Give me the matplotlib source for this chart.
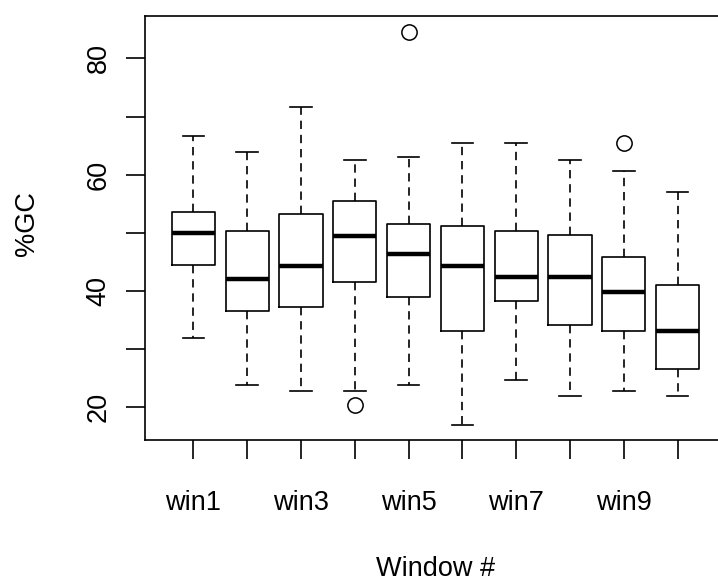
import matplotlib
matplotlib.use('Agg')
import matplotlib.pyplot as plt

# box stats (%GC per window)
windows = ['win1', 'win2', 'win3', 'win4', 'win5', 'win6', 'win7', 'win8', 'win9', 'win10']
whislo = [32.0, 23.8, 22.8, 22.8, 23.8, 17.0, 24.7, 21.9, 22.8, 21.9]
q1 = [44.5, 36.6, 37.3, 41.5, 38.9, 33.1, 38.2, 34.2, 33.1, 26.6]
med = [50.0, 42.1, 44.3, 49.5, 46.4, 44.3, 42.4, 42.4, 39.9, 33.1]
q3 = [53.5, 50.3, 53.2, 55.4, 51.6, 51.1, 50.3, 49.7, 45.9, 41.0]
whishi = [66.7, 63.9, 71.7, 62.5, 63.0, 65.5, 65.5, 62.5, 60.6, 57.0]
fliers = [[], [], [], [20.4], [84.5], [], [], [], [65.5], []]

yticks = [20, 30, 40, 50, 60, 70, 80]
ytick_labels = ['20', '', '40', '', '60', '', '80']
xtick_labels = ['win1', '', 'win3', '', 'win5', '', 'win7', '', 'win9', '']

plt.rcParams['font.family'] = ['Liberation Sans', 'DejaVu Sans']

fig = plt.figure(figsize=(7.18, 5.84), dpi=100)
ax = fig.add_axes([145/718, 144/584, 581/718, 424.3/584])

stats = []
for i in range(len(windows)):
    stats.append(dict(label=windows[i], whislo=whislo[i], q1=q1[i], med=med[i],
                      q3=q3[i], whishi=whishi[i], fliers=fliers[i]))

pos = list(range(1, len(windows) + 1))
ax.bxp(stats, positions=pos, widths=0.8, showfliers=True,
       boxprops=dict(color='black', linewidth=1.2),
       medianprops=dict(color='black', linewidth=3.2, solid_capstyle='butt'),
       whiskerprops=dict(color='black', linewidth=1.2, linestyle=(0, (5, 3.5))),
       capprops=dict(color='black', linewidth=1.2),
       capwidths=0.4,
       flierprops=dict(marker='o', markersize=11, markerfacecolor='none',
                       markeredgecolor='black', markeredgewidth=1.1, linestyle='none'))

ax.set_xlim(0.1, 10.9)
ax.set_ylim(14.38, 87.34)

ax.set_xticks(pos)
ax.set_xticklabels(xtick_labels, fontsize=19.5)
ax.set_yticks(yticks)
ax.set_yticklabels(ytick_labels, fontsize=19.5, rotation=90, va='center')
ax.tick_params(axis='x', length=14, width=1.2, pad=22)
ax.tick_params(axis='y', length=14, width=1.2, pad=10)

for s in ax.spines.values():
    s.set_linewidth(1.2)

ax.set_xlabel('Window #', fontsize=19.5)
ax.xaxis.set_label_coords(0.5, -0.274)
ax.set_ylabel('%GC', fontsize=19.5)
ax.yaxis.set_label_coords(-0.18, 0.51)

fig.savefig('out.png', dpi=100)
